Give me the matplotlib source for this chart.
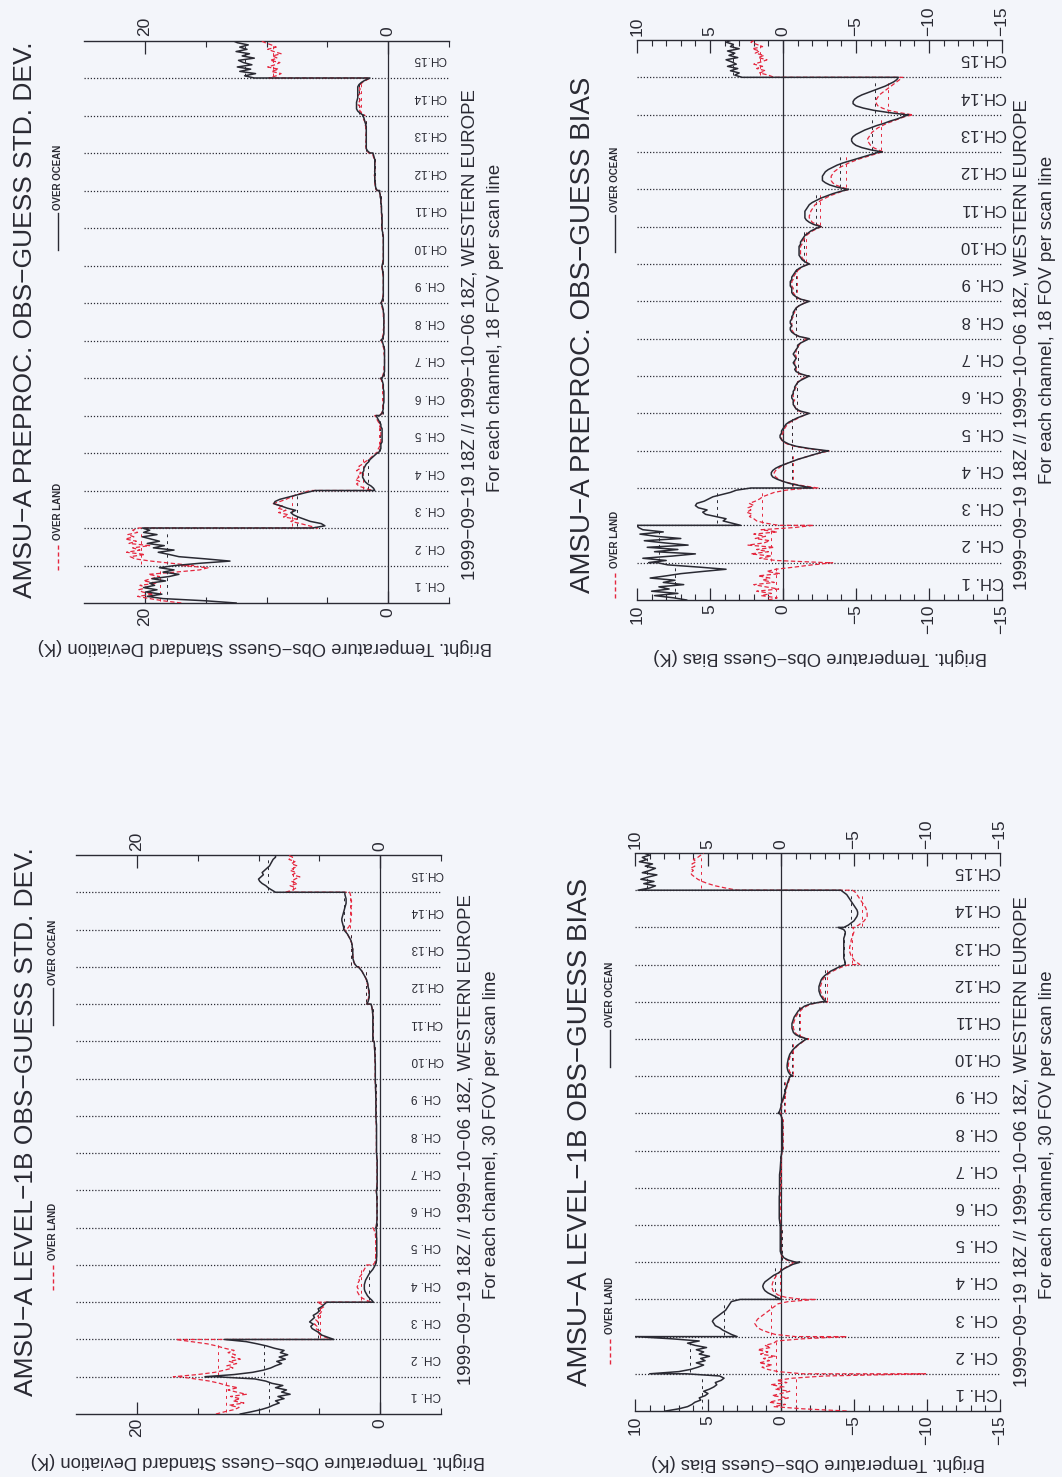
import numpy as np
import matplotlib
matplotlib.use("Agg")
import matplotlib.pyplot as plt
from matplotlib.lines import Line2D

plt.rcParams['font.family'] = ['Liberation Sans', 'DejaVu Sans']

channel_labels = ["CH. 1", "CH. 2", "CH. 3", "CH. 4", "CH. 5", "CH. 6", "CH. 7", "CH. 8",
                  "CH. 9", "CH.10", "CH.11", "CH.12", "CH.13", "CH.14", "CH.15"]

# values per channel, one list per channel (scan positions, bottom -> top in the picture)
preproc_std_ocean = [
    [12.5, 15.0, 18.5, 19.8, 18.6, 19.9, 19.0, 20.1, 19.2, 19.6, 18.3, 19.4, 18.0, 17.2, 18.5, 17.6, 18.8, 17.5],
    [17.5, 15.5, 13.0, 15.0, 17.2, 18.0, 18.9, 17.6, 19.3, 18.4, 19.8, 18.8, 19.5, 20.2, 19.0, 20.1, 19.6, 20.2],
    [6.2, 5.2, 5.5, 6.4, 6.9, 7.4, 7.8, 8.0, 7.6, 8.3, 8.8, 9.4, 9.3, 8.9, 8.2, 7.5, 6.8, 6.0],
    [1.1, 1.2, 1.4, 1.7, 1.9, 2.0, 2.1, 2.1, 2.1, 2.0, 2.0, 1.9, 1.8, 1.6, 1.5, 1.3, 1.1, 0.9],
    [0.8, 0.7, 0.6, 0.6, 0.6, 0.5, 0.5, 0.5, 0.5, 0.5, 0.5, 0.5, 0.6, 0.6, 0.7, 0.8, 0.9, 1.0],
    [0.7, 0.5, 0.45, 0.4, 0.4, 0.4, 0.35, 0.35, 0.35, 0.35, 0.35, 0.35, 0.4, 0.4, 0.4, 0.45, 0.5, 0.6],
    [0.5, 0.4, 0.35, 0.3, 0.3, 0.3, 0.3, 0.3, 0.3, 0.3, 0.3, 0.3, 0.3, 0.3, 0.35, 0.4, 0.45, 0.5],
    [0.6, 0.45, 0.4, 0.35, 0.35, 0.35, 0.35, 0.35, 0.35, 0.35, 0.35, 0.35, 0.35, 0.4, 0.4, 0.45, 0.5, 0.6],
    [0.6, 0.5, 0.45, 0.4, 0.4, 0.4, 0.4, 0.4, 0.4, 0.4, 0.4, 0.4, 0.4, 0.4, 0.45, 0.45, 0.5, 0.5],
    [0.5, 0.45, 0.4, 0.4, 0.4, 0.4, 0.4, 0.4, 0.4, 0.4, 0.4, 0.4, 0.4, 0.4, 0.45, 0.45, 0.5, 0.5],
    [0.5, 0.5, 0.5, 0.5, 0.5, 0.5, 0.5, 0.55, 0.55, 0.55, 0.55, 0.6, 0.6, 0.6, 0.65, 0.65, 0.7, 0.7],
    [0.9, 1.0, 1.05, 1.05, 1.1, 1.1, 1.1, 1.1, 1.1, 1.1, 1.1, 1.1, 1.1, 1.1, 1.1, 1.15, 1.2, 1.25],
    [1.5, 1.7, 1.8, 1.8, 1.8, 1.8, 1.8, 1.8, 1.8, 1.8, 1.8, 1.8, 1.8, 1.85, 1.9, 1.95, 2.0, 2.1],
    [2.0, 2.3, 2.5, 2.6, 2.6, 2.6, 2.6, 2.55, 2.5, 2.5, 2.5, 2.5, 2.5, 2.5, 2.4, 2.2, 1.9, 1.5],
    [11.0, 11.8, 10.9, 12.2, 11.3, 12.4, 11.2, 11.9, 12.3, 11.0, 12.0, 11.4, 12.5, 11.6, 12.2, 11.5, 12.4, 12.8],
]
preproc_std_land = [
    [17.0, 18.5, 19.6, 20.6, 19.3, 20.2, 20.5, 19.8, 20.4, 19.0, 20.1, 19.5, 18.8, 19.7, 17.5, 15.5, 14.8, 17.0],
    [16.0, 17.8, 19.5, 20.8, 21.2, 20.0, 21.5, 20.4, 21.0, 19.6, 21.3, 20.7, 21.6, 20.9, 21.4, 20.6, 21.0, 20.5],
    [5.8, 6.5, 7.2, 8.0, 7.5, 8.6, 8.2, 9.0, 8.4, 9.1, 8.7, 9.5, 8.9, 8.4, 8.0, 7.6, 7.0, 6.4],
    [1.3, 1.9, 2.4, 2.6, 2.3, 2.7, 2.4, 2.5, 2.2, 2.6, 2.3, 2.4, 2.1, 1.9, 1.6, 1.4, 1.2, 1.0],
    [0.9, 0.9, 0.8, 0.7, 0.7, 0.6, 0.6, 0.6, 0.6, 0.6, 0.6, 0.6, 0.7, 0.7, 0.8, 0.9, 1.0, 1.1],
    [0.7, 0.55, 0.5, 0.45, 0.45, 0.4, 0.4, 0.4, 0.4, 0.4, 0.4, 0.4, 0.45, 0.45, 0.45, 0.5, 0.55, 0.65],
    [0.55, 0.45, 0.4, 0.35, 0.35, 0.35, 0.3, 0.3, 0.3, 0.3, 0.3, 0.35, 0.35, 0.35, 0.4, 0.45, 0.5, 0.55],
    [0.6, 0.5, 0.45, 0.4, 0.4, 0.4, 0.35, 0.35, 0.35, 0.35, 0.4, 0.4, 0.4, 0.4, 0.45, 0.5, 0.55, 0.6],
    [0.55, 0.5, 0.45, 0.45, 0.4, 0.4, 0.4, 0.4, 0.4, 0.4, 0.4, 0.4, 0.4, 0.45, 0.45, 0.5, 0.5, 0.55],
    [0.5, 0.45, 0.45, 0.4, 0.4, 0.4, 0.4, 0.4, 0.4, 0.4, 0.4, 0.4, 0.4, 0.45, 0.45, 0.45, 0.5, 0.5],
    [0.55, 0.5, 0.5, 0.5, 0.5, 0.5, 0.55, 0.55, 0.55, 0.55, 0.6, 0.6, 0.6, 0.6, 0.65, 0.65, 0.7, 0.75],
    [0.95, 1.0, 1.05, 1.1, 1.1, 1.1, 1.1, 1.15, 1.15, 1.1, 1.1, 1.1, 1.1, 1.1, 1.15, 1.2, 1.25, 1.3],
    [1.6, 1.75, 1.8, 1.85, 1.8, 1.85, 1.8, 1.8, 1.85, 1.8, 1.8, 1.85, 1.85, 1.9, 1.9, 2.0, 2.05, 2.1],
    [1.9, 2.2, 2.3, 2.4, 2.3, 2.5, 2.4, 2.3, 2.4, 2.5, 2.3, 2.4, 2.3, 2.4, 2.3, 2.1, 1.8, 1.5],
    [9.8, 9.2, 8.8, 9.6, 9.0, 9.9, 9.3, 8.9, 9.7, 9.1, 9.5, 8.8, 9.4, 9.9, 9.2, 9.6, 10.1, 10.5],
]

preproc_bias_ocean = [
    [6.6, 7.5, 8.8, 7.2, 9.0, 7.8, 8.5, 6.8, 8.2, 7.4, 9.1, 8.0, 7.0, 5.5, 3.9, 5.8, 7.9, 8.6],
    [9.2, 8.0, 9.6, 7.6, 6.0, 8.8, 7.2, 9.3, 6.5, 8.1, 9.5, 7.0, 8.7, 9.8, 8.2, 9.6, 9.9, 10.0],
    [2.9, 3.5, 4.1, 3.9, 4.6, 5.3, 5.5, 5.2, 5.8, 6.0, 5.9, 5.4, 5.1, 4.8, 4.2, 3.6, 3.2, 2.2],
    [-2.0, -1.2, -0.5, 0.0, 0.4, 0.7, 0.8, 0.8, 0.7, 0.5, 0.2, -0.2, -0.6, -1.0, -1.5, -2.0, -2.5, -3.1],
    [-3.0, -1.8, -0.9, -0.4, -0.1, 0.1, 0.2, 0.2, 0.1, 0.1, 0.0, -0.1, -0.2, -0.4, -0.7, -1.0, -1.4, -1.8],
    [-1.8, -1.2, -0.9, -0.8, -0.7, -0.7, -0.7, -0.6, -0.6, -0.7, -0.7, -0.8, -0.8, -0.9, -1.0, -1.2, -1.5, -1.8],
    [-1.7, -1.2, -0.9, -0.8, -0.9, -0.8, -0.7, -0.8, -0.9, -0.8, -0.7, -0.8, -0.9, -1.0, -1.0, -1.2, -1.5, -1.8],
    [-1.8, -1.1, -0.8, -0.6, -0.5, -0.5, -0.6, -0.5, -0.5, -0.6, -0.6, -0.7, -0.7, -0.8, -0.9, -1.1, -1.4, -1.8],
    [-1.8, -1.2, -0.9, -0.7, -0.6, -0.6, -0.6, -0.5, -0.5, -0.5, -0.6, -0.6, -0.7, -0.8, -0.9, -1.1, -1.4, -1.8],
    [-1.8, -1.5, -1.3, -1.2, -1.1, -1.1, -1.1, -1.1, -1.1, -1.2, -1.2, -1.3, -1.4, -1.5, -1.7, -1.9, -2.2, -2.6],
    [-2.6, -2.1, -1.8, -1.6, -1.5, -1.5, -1.5, -1.5, -1.6, -1.7, -1.8, -2.0, -2.3, -2.6, -3.0, -3.4, -3.9, -4.5],
    [-4.4, -3.7, -3.2, -2.9, -2.7, -2.7, -2.7, -2.8, -2.9, -3.1, -3.4, -3.7, -4.1, -4.6, -5.1, -5.6, -6.1, -6.6],
    [-6.8, -6.0, -5.4, -5.0, -4.8, -4.7, -4.7, -4.8, -5.0, -5.3, -5.6, -6.0, -6.4, -6.9, -7.3, -7.8, -8.2, -8.6],
    [-8.4, -7.2, -6.2, -5.5, -5.0, -4.8, -4.8, -4.9, -5.1, -5.4, -5.8, -6.2, -6.6, -7.0, -7.3, -7.6, -7.8, -7.9],
    [2.8, 3.3, 3.0, 3.6, 3.1, 3.8, 3.2, 3.5, 3.9, 3.1, 3.7, 3.3, 3.8, 3.0, 3.6, 3.4, 3.9, 3.5],
]
preproc_bias_land = [
    [1.0, 0.4, 1.5, 0.8, 1.8, 0.3, 1.2, 2.0, 0.6, 1.4, 0.9, 1.7, 0.2, 1.1, 0.5, -0.8, -2.0, -3.4],
    [-3.0, 0.5, 1.6, 0.8, 2.2, 1.0, 1.8, 0.6, 2.4, 1.3, 0.9, 1.9, 1.2, 2.0, 0.4, 1.5, -0.8, -2.1],
    [0.3, 1.2, 1.8, 2.0, 2.3, 2.1, 2.5, 2.2, 2.4, 2.0, 2.3, 1.9, 1.6, 1.4, 1.0, 0.6, -0.2, -1.7],
    [-2.4, -1.4, -0.6, 0.0, 0.3, 0.5, 0.6, 0.6, 0.5, 0.3, 0.1, -0.2, -0.6, -1.0, -1.5, -2.0, -2.6, -3.2],
    [-2.8, -1.6, -0.8, -0.3, 0.0, 0.1, 0.1, 0.1, 0.0, 0.0, -0.1, -0.2, -0.3, -0.5, -0.8, -1.1, -1.4, -1.7],
    [-1.7, -1.1, -0.9, -0.8, -0.8, -0.7, -0.8, -0.7, -0.7, -0.7, -0.8, -0.8, -0.9, -0.9, -1.0, -1.1, -1.4, -1.7],
    [-1.6, -1.1, -0.9, -0.9, -0.9, -0.8, -0.8, -0.8, -0.9, -0.9, -0.8, -0.9, -0.9, -1.0, -1.1, -1.2, -1.4, -1.7],
    [-1.7, -1.1, -0.8, -0.7, -0.6, -0.6, -0.6, -0.6, -0.6, -0.6, -0.7, -0.7, -0.8, -0.8, -0.9, -1.1, -1.4, -1.7],
    [-1.7, -1.2, -0.9, -0.8, -0.7, -0.7, -0.7, -0.6, -0.6, -0.6, -0.7, -0.7, -0.8, -0.9, -1.0, -1.2, -1.4, -1.8],
    [-1.8, -1.5, -1.4, -1.3, -1.2, -1.2, -1.2, -1.2, -1.2, -1.3, -1.3, -1.4, -1.5, -1.6, -1.8, -2.0, -2.3, -2.6],
    [-2.7, -2.3, -2.0, -1.9, -1.8, -1.8, -1.9, -1.9, -2.0, -2.1, -2.2, -2.4, -2.6, -2.9, -3.2, -3.6, -4.0, -4.5],
    [-4.5, -4.0, -3.6, -3.4, -3.3, -3.3, -3.3, -3.4, -3.5, -3.7, -3.9, -4.2, -4.5, -4.9, -5.3, -5.8, -6.3, -6.8],
    [-6.9, -6.5, -6.2, -6.0, -5.9, -5.8, -5.8, -5.9, -6.0, -6.1, -6.3, -6.5, -6.8, -7.1, -7.5, -7.9, -8.3, -8.9],
    [-8.8, -7.9, -7.2, -6.8, -6.5, -6.4, -6.4, -6.4, -6.5, -6.6, -6.8, -7.0, -7.2, -7.4, -7.6, -7.8, -8.0, -8.2],
    [0.6, 1.0, 1.6, 1.2, 1.8, 1.4, 2.0, 1.5, 1.1, 1.7, 1.3, 1.9, 1.6, 2.1, 1.4, 1.8, 2.2, 1.9],
]

l1b_std_ocean = [
    [11.5, 10.6, 9.8, 9.2, 8.8, 8.3, 8.6, 7.9, 8.4, 7.4, 8.1, 7.7, 8.6, 8.0, 8.9, 9.4, 10.3, 13.5],
    [14.4, 12.0, 10.5, 9.6, 9.0, 8.6, 8.1, 8.5, 7.8, 8.3, 7.6, 8.2, 7.9, 8.7, 9.3, 10.1, 11.0, 12.8],
    [3.8, 4.3, 4.8, 5.0, 5.3, 5.6, 5.7, 5.5, 5.8, 5.6, 5.4, 5.5, 5.2, 5.0, 5.1, 4.8, 4.6, 4.4],
    [0.55, 0.7, 0.9, 1.05, 1.15, 1.25, 1.3, 1.3, 1.3, 1.25, 1.2, 1.1, 1.0, 0.9, 0.75, 0.6, 0.5, 0.4],
    [0.4, 0.35, 0.3, 0.3, 0.28, 0.28, 0.28, 0.28, 0.28, 0.28, 0.28, 0.28, 0.28, 0.3, 0.3, 0.3, 0.32, 0.35],
    [0.32, 0.3, 0.28, 0.27, 0.26, 0.26, 0.26, 0.26, 0.26, 0.26, 0.26, 0.26, 0.26, 0.27, 0.27, 0.28, 0.3, 0.32],
    [0.3, 0.28, 0.26, 0.25, 0.25, 0.25, 0.25, 0.25, 0.25, 0.25, 0.25, 0.25, 0.25, 0.25, 0.26, 0.27, 0.28, 0.3],
    [0.3, 0.3, 0.3, 0.3, 0.3, 0.3, 0.3, 0.3, 0.3, 0.3, 0.3, 0.3, 0.3, 0.3, 0.32, 0.33, 0.34, 0.35],
    [0.35, 0.35, 0.35, 0.35, 0.35, 0.35, 0.35, 0.35, 0.35, 0.36, 0.36, 0.37, 0.37, 0.38, 0.38, 0.39, 0.4, 0.4],
    [0.4, 0.4, 0.4, 0.4, 0.4, 0.4, 0.4, 0.4, 0.42, 0.42, 0.43, 0.43, 0.44, 0.45, 0.46, 0.47, 0.48, 0.5],
    [0.6, 0.6, 0.6, 0.6, 0.6, 0.6, 0.6, 0.6, 0.6, 0.6, 0.6, 0.6, 0.6, 0.62, 0.64, 0.66, 0.7, 0.75],
    [1.1, 1.0, 0.95, 0.9, 0.9, 0.9, 0.9, 0.95, 1.0, 1.0, 1.05, 1.1, 1.2, 1.3, 1.4, 1.5, 1.65, 1.8],
    [1.9, 2.05, 2.15, 2.2, 2.25, 2.25, 2.25, 2.25, 2.25, 2.3, 2.3, 2.35, 2.4, 2.5, 2.6, 2.7, 2.85, 3.0],
    [3.0, 3.0, 3.05, 3.1, 3.15, 3.15, 3.1, 3.05, 3.0, 2.95, 2.9, 2.85, 2.8, 2.8, 2.8, 2.85, 2.9, 2.9],
    [8.6, 8.9, 9.2, 9.4, 9.7, 9.9, 10.0, 9.8, 9.6, 9.7, 9.5, 9.3, 9.1, 9.0, 8.9, 8.8, 8.6, 8.6],
]
l1b_std_land = [
    [13.5, 12.8, 12.0, 11.6, 12.4, 11.2, 12.1, 11.5, 12.3, 11.0, 11.8, 12.5, 11.7, 12.6, 13.2, 14.0, 15.2, 16.5],
    [17.0, 15.0, 13.6, 12.8, 12.1, 12.6, 11.8, 12.4, 11.5, 12.2, 11.9, 12.5, 12.0, 12.8, 13.4, 14.2, 15.5, 16.8],
    [4.0, 4.5, 4.9, 5.1, 5.0, 5.3, 5.2, 5.4, 5.1, 5.3, 5.0, 5.2, 4.9, 4.8, 4.9, 4.6, 4.8, 5.2],
    [0.7, 1.2, 1.5, 1.7, 1.8, 1.9, 1.8, 1.9, 1.8, 1.8, 1.7, 1.8, 1.6, 1.5, 1.4, 1.3, 1.2, 1.1],
    [0.6, 0.45, 0.4, 0.38, 0.36, 0.35, 0.35, 0.35, 0.35, 0.35, 0.35, 0.35, 0.36, 0.38, 0.4, 0.45, 0.5, 0.6],
    [0.35, 0.32, 0.3, 0.28, 0.27, 0.27, 0.27, 0.27, 0.27, 0.27, 0.27, 0.27, 0.27, 0.28, 0.28, 0.3, 0.31, 0.33],
    [0.31, 0.29, 0.27, 0.26, 0.26, 0.26, 0.26, 0.26, 0.26, 0.26, 0.26, 0.26, 0.26, 0.26, 0.27, 0.28, 0.29, 0.31],
    [0.32, 0.31, 0.31, 0.31, 0.31, 0.31, 0.31, 0.31, 0.31, 0.31, 0.31, 0.31, 0.31, 0.32, 0.33, 0.34, 0.35, 0.36],
    [0.36, 0.36, 0.36, 0.36, 0.36, 0.36, 0.36, 0.36, 0.36, 0.37, 0.37, 0.38, 0.38, 0.39, 0.39, 0.4, 0.41, 0.41],
    [0.41, 0.41, 0.41, 0.41, 0.41, 0.41, 0.41, 0.42, 0.43, 0.43, 0.44, 0.44, 0.45, 0.46, 0.47, 0.48, 0.49, 0.5],
    [0.6, 0.6, 0.6, 0.6, 0.6, 0.6, 0.6, 0.6, 0.6, 0.6, 0.6, 0.6, 0.61, 0.63, 0.65, 0.67, 0.7, 0.75],
    [1.1, 1.05, 1.0, 0.95, 0.95, 0.95, 0.95, 1.0, 1.0, 1.05, 1.1, 1.15, 1.2, 1.3, 1.4, 1.5, 1.6, 1.75],
    [1.95, 2.1, 2.15, 2.2, 2.2, 2.25, 2.25, 2.3, 2.25, 2.3, 2.3, 2.35, 2.45, 2.5, 2.6, 2.7, 2.8, 2.95],
    [2.8, 2.6, 2.5, 2.45, 2.4, 2.45, 2.4, 2.35, 2.4, 2.35, 2.4, 2.35, 2.4, 2.35, 2.4, 2.4, 2.45, 2.5],
    [7.8, 7.2, 6.9, 7.4, 6.8, 7.3, 7.0, 6.6, 7.2, 6.9, 7.4, 7.1, 6.8, 7.3, 7.0, 7.5, 7.2, 7.6],
]

l1b_bias_ocean = [
    [7.9, 7.0, 6.4, 6.1, 5.9, 5.5, 5.6, 5.2, 5.0, 5.3, 4.9, 4.6, 4.4, 4.5, 4.1, 3.9, 4.2, 6.5],
    [9.0, 7.0, 6.2, 5.7, 5.3, 5.8, 5.2, 5.5, 4.9, 5.6, 5.3, 5.8, 5.1, 5.9, 6.4, 5.6, 7.5, 10.0],
    [3.0, 3.4, 3.7, 4.0, 4.2, 4.5, 4.6, 4.7, 4.6, 4.4, 4.2, 4.0, 3.8, 3.7, 3.6, 3.5, 3.4, 2.8],
    [0.0, 0.3, 0.6, 0.9, 1.1, 1.2, 1.25, 1.2, 1.1, 0.9, 0.7, 0.5, 0.2, 0.0, -0.2, -0.5, -0.8, -1.3],
    [-1.0, -0.5, -0.2, -0.1, 0.0, 0.05, 0.05, 0.05, 0.05, 0.05, 0.05, 0.05, 0.05, 0.05, 0.05, 0.05, 0.05, 0.05],
    [0.05, 0.08, 0.1, 0.12, 0.12, 0.12, 0.12, 0.12, 0.12, 0.12, 0.12, 0.12, 0.12, 0.12, 0.1, 0.1, 0.1, 0.1],
    [0.1, 0.1, 0.1, 0.1, 0.1, 0.1, 0.1, 0.08, 0.06, 0.05, 0.04, 0.03, 0.02, 0.0, 0.0, -0.02, -0.05, -0.08],
    [-0.1, -0.1, -0.1, -0.1, -0.1, -0.1, -0.1, -0.1, -0.1, -0.1, -0.1, -0.1, -0.1, -0.1, -0.08, -0.05, 0.0, 0.1],
    [0.2, 0.1, 0.05, 0.0, 0.0, -0.05, -0.1, -0.15, -0.2, -0.25, -0.3, -0.3, -0.35, -0.4, -0.45, -0.5, -0.55, -0.65],
    [-0.8, -0.6, -0.5, -0.45, -0.42, -0.42, -0.44, -0.47, -0.5, -0.55, -0.6, -0.7, -0.8, -0.95, -1.1, -1.3, -1.5, -1.75],
    [-1.8, -1.3, -1.0, -0.85, -0.8, -0.75, -0.75, -0.75, -0.8, -0.85, -0.9, -1.0, -1.1, -1.2, -1.4, -1.6, -2.0, -2.8],
    [-3.1, -2.9, -2.8, -2.7, -2.65, -2.6, -2.6, -2.6, -2.65, -2.7, -2.75, -2.85, -3.0, -3.2, -3.4, -3.7, -4.0, -4.4],
    [-4.4, -4.4, -4.35, -4.3, -4.3, -4.3, -4.3, -4.3, -4.3, -4.3, -4.3, -4.3, -4.3, -4.35, -4.4, -4.4, -4.3, -3.9],
    [-4.3, -4.6, -4.8, -5.0, -5.1, -5.2, -5.25, -5.25, -5.2, -5.1, -5.0, -4.9, -4.8, -4.7, -4.6, -4.5, -4.3, -4.1],
    [9.8, 9.0, 8.6, 9.4, 8.7, 9.6, 9.1, 8.5, 9.5, 9.0, 8.6, 9.3, 8.8, 9.7, 9.2, 9.5, 9.0, 9.4],
]
l1b_bias_land = [
    [-4.5, -1.5, 0.5, -0.3, 0.8, 0.2, -0.5, 0.6, 0.0, -0.6, 0.4, -0.2, 0.7, -0.4, 0.3, -0.8, -3.0, -9.9],
    [-1.5, 0.2, 0.9, 1.3, 0.6, 1.5, 0.8, 1.2, 0.4, 1.4, 0.9, 1.6, 0.7, 1.1, 0.5, 0.3, -1.5, -4.5],
    [-1.0, 0.4, 0.9, 1.3, 1.6, 1.7, 1.8, 1.7, 1.6, 1.4, 1.2, 1.0, 0.8, 0.6, 0.4, 0.2, -0.5, -2.4],
    [-1.5, -0.3, 0.2, 0.4, 0.55, 0.6, 0.6, 0.6, 0.55, 0.5, 0.4, 0.3, 0.15, 0.0, -0.2, -0.4, -0.7, -1.0],
    [-0.8, -0.4, -0.15, -0.05, 0.0, 0.02, 0.02, 0.02, 0.02, 0.02, 0.02, 0.02, 0.02, 0.02, 0.02, 0.02, 0.02, 0.02],
    [0.02, 0.04, 0.05, 0.06, 0.06, 0.06, 0.06, 0.06, 0.06, 0.06, 0.06, 0.06, 0.06, 0.06, 0.05, 0.05, 0.05, 0.05],
    [0.05, 0.05, 0.05, 0.05, 0.05, 0.05, 0.04, 0.03, 0.02, 0.01, 0.0, -0.01, -0.02, -0.03, -0.04, -0.05, -0.06, -0.08],
    [-0.1, -0.1, -0.1, -0.12, -0.12, -0.12, -0.12, -0.12, -0.12, -0.12, -0.12, -0.12, -0.12, -0.12, -0.1, -0.08, -0.05, 0.0],
    [0.1, 0.05, 0.0, -0.05, -0.05, -0.1, -0.15, -0.2, -0.25, -0.3, -0.35, -0.35, -0.4, -0.45, -0.5, -0.55, -0.6, -0.7],
    [-0.85, -0.7, -0.6, -0.55, -0.5, -0.5, -0.52, -0.55, -0.58, -0.62, -0.68, -0.75, -0.85, -1.0, -1.15, -1.35, -1.55, -1.8],
    [-1.9, -1.4, -1.1, -0.95, -0.9, -0.85, -0.85, -0.85, -0.9, -0.95, -1.0, -1.1, -1.2, -1.35, -1.5, -1.75, -2.1, -2.9],
    [-3.2, -3.0, -2.9, -2.8, -2.75, -2.7, -2.7, -2.7, -2.75, -2.8, -2.85, -2.95, -3.1, -3.3, -3.55, -3.85, -4.2, -4.7],
    [-5.4, -5.2, -5.0, -4.9, -4.8, -4.75, -4.7, -4.7, -4.7, -4.75, -4.8, -4.8, -4.85, -4.9, -4.95, -5.0, -5.0, -4.9],
    [-5.0, -5.3, -5.5, -5.7, -5.8, -5.9, -5.9, -5.9, -5.85, -5.8, -5.7, -5.6, -5.5, -5.4, -5.3, -5.2, -5.1, -4.9],
    [3.0, 3.8, 4.5, 5.0, 5.4, 5.7, 5.9, 6.1, 6.2, 6.0, 6.2, 5.9, 6.1, 5.8, 6.0, 5.7, 5.5, 5.3],
]

W, H = 1062, 1477
PAPER = '#f3f5fa'
INK = '#2a2a33'
RED = '#e5283f'

fig = plt.figure(figsize=(W / 100, H / 100), dpi=100, facecolor=PAPER)


def fx(x):
    return x / W


def fy(y):
    return 1 - y / H


def draw_panel(box, ocean, land, xlim, major, minor, lab_x, lab_size, tick_size):
    x0, y0, x1, y1 = box
    ax = fig.add_axes([fx(x0), fy(y1), (x1 - x0) / W, (y1 - y0) / H])
    ax.set_facecolor('none')
    nch = len(ocean)
    for k in range(1, nch):
        ax.axhline(k, color=INK, lw=0.9, ls=(0, (1, 1.5)), zorder=1)
    ax.axvline(0, color=INK, lw=0.9, zorder=2)

    for data, col, ls, lw in [(land, RED, (0, (3.5, 2)), 0.9), (ocean, INK, '-', 1.1)]:
        xs, ys = [], []
        for k, vals in enumerate(data):
            pos = np.linspace(k, k + 1, len(vals))
            xs.extend(vals)
            ys.extend(pos)
            # channel mean marker
            ax.plot([np.mean(vals)] * 2, [k + 0.05, k + 0.95], color=col, lw=0.7,
                    ls=(0, (3, 4)), zorder=2)
        ax.plot(xs, ys, color=col, lw=lw, ls=ls, zorder=3)

    for k, lab in enumerate(channel_labels):
        ax.text(lab_x, k + 0.5, lab, transform=ax.get_yaxis_transform(), rotation=180,
                ha='center', va='center', fontsize=lab_size, color=INK)

    ax.set_xlim(*xlim)
    ax.set_ylim(0, nch)
    ax.set_yticks([])
    for s in ['left', 'right']:
        ax.spines[s].set_visible(False)
    for s in ['top', 'bottom']:
        ax.spines[s].set_color(INK)
        ax.spines[s].set_linewidth(1.0)
    ax.set_xticks(major)
    ax.set_xticks(minor, minor=True)
    ax.tick_params(axis='x', which='both', direction='in', top=True, bottom=True,
                   labeltop=True, labelbottom=True, labelrotation=90, colors=INK,
                   labelsize=tick_size, pad=3)
    ax.tick_params(axis='x', which='major', length=9, width=0.9)
    ax.tick_params(axis='x', which='minor', length=4, width=0.8)
    return ax


std_major = [0, 20]
std_minor = [-5, 5, 10, 15]
bias_major = [-15, -10, -5, 0, 5, 10]
bias_minor = [v for v in range(-15, 11) if v % 5]

draw_panel((84, 40.5, 449, 603), preproc_std_ocean, preproc_std_land, (25, -5),
           std_major, std_minor, 0.948, 8.5, 12.5)
draw_panel((637, 40, 1002, 600), preproc_bias_ocean, preproc_bias_land, (10, -15),
           bias_major, bias_minor, 0.948, 12, 12.5)
draw_panel((76, 855, 441, 1414), l1b_std_ocean, l1b_std_land, (25, -5),
           std_major, std_minor, 0.96, 8.5, 12.5)
draw_panel((635, 853, 1000, 1411), l1b_bias_ocean, l1b_bias_land, (10, -15),
           bias_major, bias_minor, 0.937, 12, 12.5)

subtitle = "1999\u221209\u221219 18Z // 1999\u221210\u221206 18Z, WESTERN EUROPE"
panels_text = [
    # title, size, x, y | legend x, land y, ocean y | subtitle x, y, line-2 y, fov | ylabel, x, y
    ("AMSU\u2212A PREPROC. OBS\u2212GUESS STD. DEV.", 19, 25, 320, 58, 540, 210,
     470, 335, 328, "18", "Bright. Temperature Obs\u2212Guess Standard Deviation (K)", 265, 647),
    ("AMSU\u2212A PREPROC. OBS\u2212GUESS BIAS", 20, 583, 335, 615, 568, 212,
     1022, 345, 320, "18", "Bright. Temperature Obs\u2212Guess Bias (K)", 820, 657),
    ("AMSU\u2212A LEVEL\u22121B OBS\u2212GUESS STD. DEV.", 19, 26, 1122, 53, 1260, 985,
     466, 1140, 1135, "30", "Bright. Temperature Obs\u2212Guess Standard Deviation (K)", 258, 1460),
    ("AMSU\u2212A LEVEL\u22121B OBS\u2212GUESS BIAS", 20, 580, 1132, 610, 1334, 1027,
     1022, 1142, 1135, "30", "Bright. Temperature Obs\u2212Guess Bias (K)", 818, 1462),
]

for (title, tsize, tx, ty, lx, land_y, ocean_y, sx, sy, sy2, fov, ylab, yx, yy) in panels_text:
    fig.text(fx(tx), fy(ty), title, rotation=90, ha='center', va='center',
             fontsize=tsize, color=INK)
    # legend: line sample then label, reading upward
    fig.add_artist(Line2D([fx(lx)] * 2, [fy(land_y + 30), fy(land_y + 3)],
                          transform=fig.transFigure, color=RED, lw=1.0, ls=(0, (3, 2))))
    fig.text(fx(lx), fy(land_y), "OVER LAND", rotation=90, ha='center', va='bottom',
             fontsize=7, fontweight='bold', color=INK)
    fig.add_artist(Line2D([fx(lx)] * 2, [fy(ocean_y + 40), fy(ocean_y + 3)],
                          transform=fig.transFigure, color=INK, lw=1.0))
    fig.text(fx(lx), fy(ocean_y), "OVER OCEAN", rotation=90, ha='center', va='bottom',
             fontsize=7, fontweight='bold', color=INK)
    fig.text(fx(sx), fy(sy), subtitle, rotation=90, ha='center', va='center',
             fontsize=13.4, color=INK)
    fig.text(fx(sx + 25), fy(sy2), "For each channel, %s FOV per scan line" % fov,
             rotation=90, ha='center', va='center', fontsize=13.4, color=INK)
    fig.text(fx(yx), fy(yy), ylab, rotation=180, ha='center', va='center',
             fontsize=13.2, color=INK)

fig.savefig("out.png", dpi=100, facecolor=PAPER)
